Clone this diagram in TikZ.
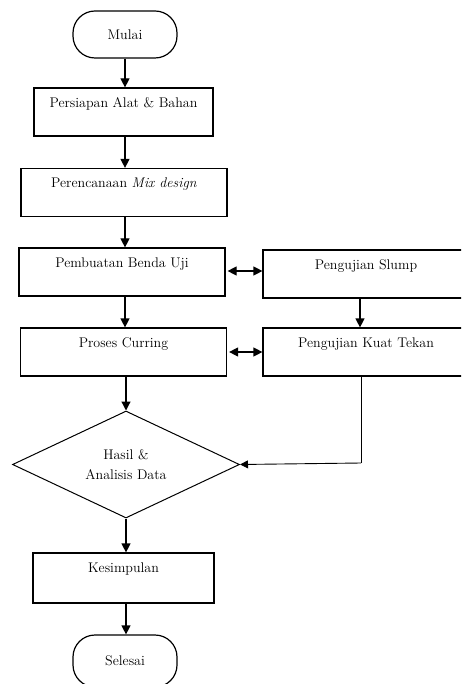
\documentclass[tikz,border=0pt]{standalone}
\usetikzlibrary{shapes.geometric,arrows.meta}
\begin{document}
\begin{tikzpicture}[x=1pt,y=-1pt,
  every node/.style={font=\fontsize{14}{16}\selectfont},
  box/.style={draw, line width=1.2pt, inner sep=0pt, text height=19.5pt, text depth=28.5pt},
  term/.style={draw, line width=1.2pt, inner sep=0pt, rounded corners=22pt, minimum width=104pt},
  dec/.style={draw, line width=1pt, diamond, inner sep=0pt, shape aspect=2.1, minimum width=227pt, minimum height=107pt, align=center, font=\fontsize{14}{20}\selectfont},
  arr/.style={line width=1.2pt, -{Triangle[length=9pt,width=9pt]}},
  darr/.style={line width=1.2pt, {Triangle[length=9pt,width=9pt]}-{Triangle[length=9pt,width=9pt]}},
  thinarr/.style={line width=0.9pt, -{Triangle[length=8pt,width=8pt]}}]
\useasboundingbox (0,0) rectangle (461,684);
\clip (0,0) rectangle (461,684);
\node[term, minimum height=47pt] (mulai) at (125,34.5) {Mulai};
\node[box, minimum width=179pt] (persiapan) at (123.5,112) {Persiapan Alat \& Bahan};
\node[box, minimum width=206pt] (perencanaan) at (124,192.5) {Perencanaan \textit{Mix design}};
\node[box, minimum width=206pt] (pembuatan) at (122,272) {Pembuatan Benda Uji};
\node[box, minimum width=206pt] (proses) at (123.5,352) {Proses Curring};
\node[box, minimum width=206pt] (slump) at (366,274) {Pengujian Slump};
\node[box, minimum width=206pt] (tekan) at (366,352) {Pengujian Kuat Tekan};
\node[dec] (hasil) at (126,464.5) {Hasil \&\\Analisis Data};
\node[box, minimum width=181pt, text depth=30.5pt] (kesimpulan) at (123.5,578) {Kesimpulan};
\node[term, minimum height=52pt] (selesai) at (125,661) {Selesai};
\coordinate (corner) at (361,463);

\draw[arr] (mulai.south) -- (mulai.south |- persiapan.north);
\draw[arr] ([xshift=1.5pt]persiapan.south) -- ([xshift=1.5pt]persiapan.south |- perencanaan.north);
\draw[arr] ([xshift=1pt]perencanaan.south) -- ([xshift=1pt]perencanaan.south |- pembuatan.north);
\draw[arr] ([xshift=3pt]pembuatan.south) -- ([xshift=3pt]pembuatan.south |- proses.north);
\draw[arr] ([xshift=2.5pt]proses.south) -- (hasil.north);
\draw[arr] (hasil.south) -- (hasil.south |- kesimpulan.north);
\draw[arr] ([xshift=2.5pt]kesimpulan.south) -- ([xshift=2.5pt]kesimpulan.south |- selesai.north);
\draw[darr] ([xshift=2pt,yshift=1pt]pembuatan.east) -- ([yshift=1pt]slump.west |- pembuatan.east);
\draw[darr] ([xshift=2pt]proses.east) -- (tekan.west |- proses.east);
\draw[arr] ([xshift=-6pt]slump.south) -- ([xshift=-6pt]slump.south |- tekan.north);
\draw[line width=1pt] ([xshift=-5pt]tekan.south) -- (corner);
\draw[thinarr] (corner) -- (hasil.east);
\end{tikzpicture}
\end{document}
